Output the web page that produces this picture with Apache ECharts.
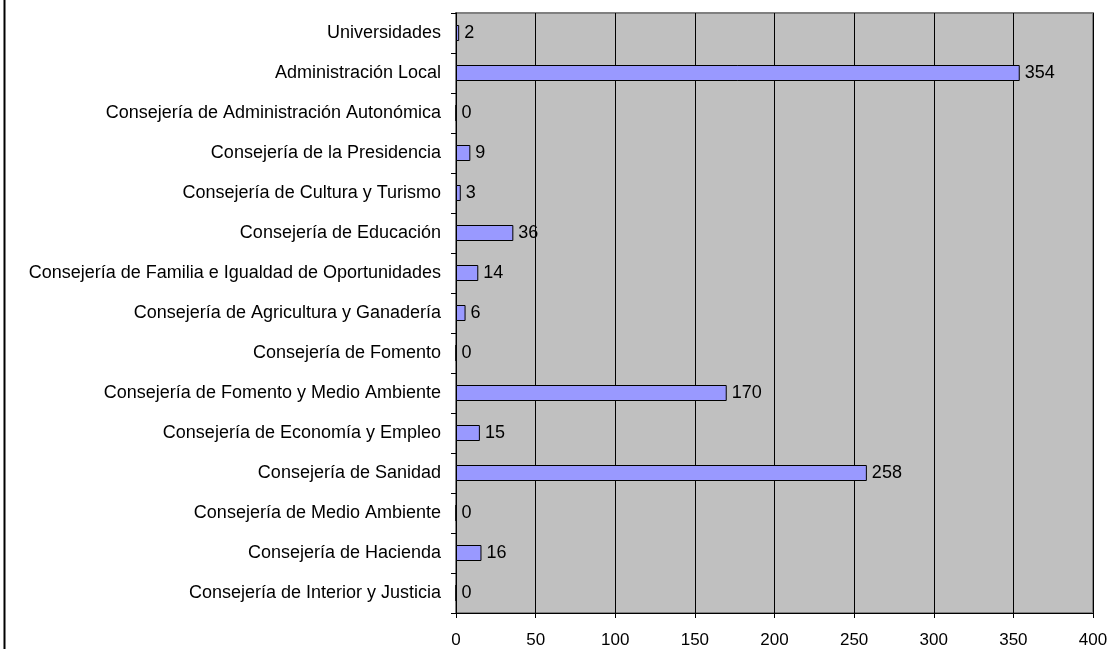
<!DOCTYPE html>
<html>
<head>
<meta charset="utf-8">
<script src="https://cdn.jsdelivr.net/npm/echarts@6/dist/echarts.min.js"></script>
<style>
html,body{margin:0;padding:0;background:#fff;}
#c{width:1112px;height:649px;}
</style>
</head>
<body>
<div id="c"></div>
<script>
const categories = [
  "Universidades",
  "Administración Local",
  "Consejería de Administración Autonómica",
  "Consejería de la Presidencia",
  "Consejería de Cultura y Turismo",
  "Consejería de Educación",
  "Consejería de Familia e Igualdad de Oportunidades",
  "Consejería de Agricultura y Ganadería",
  "Consejería de Fomento",
  "Consejería de Fomento y Medio Ambiente",
  "Consejería de Economía y Empleo",
  "Consejería de Sanidad",
  "Consejería de Medio Ambiente",
  "Consejería de Hacienda",
  "Consejería de Interior y Justicia"
];
const values = [2, 354, 0, 9, 3, 36, 14, 6, 0, 170, 15, 258, 0, 16, 0];
const xTicks = [0, 50, 100, 150, 200, 250, 300, 350, 400];

const chart = echarts.init(document.getElementById('c'), null, {renderer: 'canvas'});
const font = 'Arial, "Liberation Sans", sans-serif';
chart.setOption({
  animation: false,
  backgroundColor: '#ffffff',
  textStyle: {fontFamily: font},
  grid: {
    left: 456, right: 19, top: 13, bottom: 35,
    show: true, backgroundColor: '#C0C0C0', borderColor: '#808080', borderWidth: 2
  },
  xAxis: {
    type: 'value',
    min: xTicks[0], max: xTicks[xTicks.length - 1], interval: 50,
    axisLine: {show: true, lineStyle: {color: '#000', width: 1}},
    axisTick: {show: true, length: 5, lineStyle: {color: '#000'}},
    axisLabel: {color: '#000', fontSize: 17, fontFamily: font, margin: 19},
    splitLine: {show: true, lineStyle: {color: '#000', width: 1}}
  },
  yAxis: {
    type: 'category',
    data: categories,
    inverse: true,
    axisLine: {show: true, lineStyle: {color: '#000', width: 1}},
    axisTick: {show: true, length: 5, lineStyle: {color: '#000'}},
    axisLabel: {color: '#000', fontSize: 18, fontFamily: font, margin: 15},
    splitLine: {show: false}
  },
  series: [{
    type: 'bar',
    data: values,
    barWidth: 16,
    itemStyle: {color: '#9999FF', borderColor: '#000', borderWidth: 1},
    label: {show: true, position: 'right', distance: 5, color: '#000', fontSize: 18, fontFamily: font}
  }],
  graphic: [{
    type: 'line',
    shape: {x1: 4.5, y1: 0, x2: 4.5, y2: 649},
    style: {stroke: '#000', lineWidth: 2}
  }]
});
</script>
</body>
</html>
